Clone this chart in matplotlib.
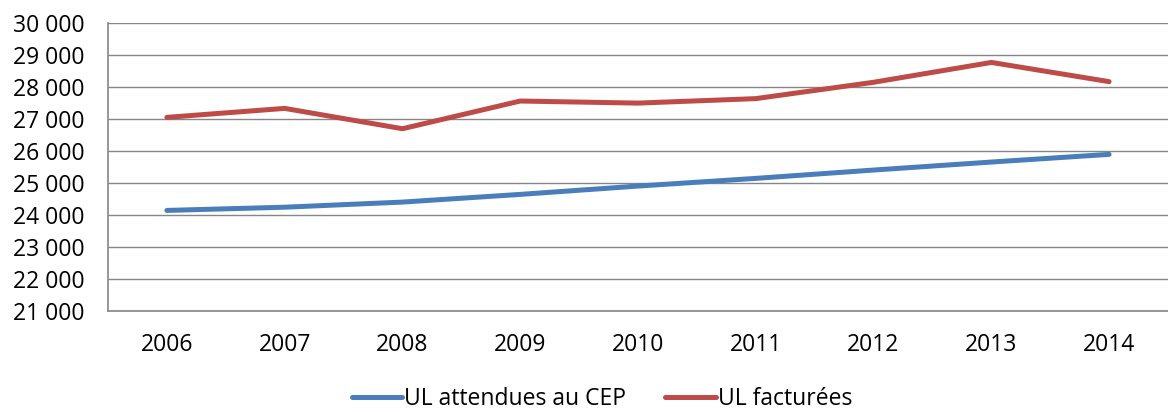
import matplotlib
matplotlib.use("Agg")
import matplotlib.pyplot as plt
from matplotlib.ticker import FuncFormatter

# data
years = ["2006", "2007", "2008", "2009", "2010", "2011", "2012", "2013", "2014"]
ul_attendues = [24140, 24240, 24400, 24640, 24900, 25140, 25400, 25650, 25890]
ul_facturees = [27045, 27325, 26690, 27555, 27490, 27630, 28140, 28760, 28160]

blue = "#4A7EBB"
red = "#BE4B48"
grey = "#868686"

plt.rcParams['font.family'] = ['Open Sans', 'DejaVu Sans']

fig = plt.figure(figsize=(11.68, 4.12), dpi=100)
ax = fig.add_axes([108 / 1168, 1 - 311 / 412, 1 - 108 / 1168, (311 - 22.7) / 412])

x = list(range(len(years)))
ax.plot(x, ul_attendues, color=blue, linewidth=3.6, solid_capstyle='round',
        label="UL attendues au CEP")
ax.plot(x, ul_facturees, color=red, linewidth=3.6, solid_capstyle='round',
        label="UL facturées")

ax.set_xlim(-0.5, len(years) - 0.5)
ax.set_ylim(21000, 30000)
ax.set_yticks(range(21000, 30001, 1000))
ax.yaxis.set_major_formatter(FuncFormatter(lambda v, p: f"{int(v):,}".replace(",", " ")))
ax.set_xticks(x)
ax.set_xticklabels(years)

ax.grid(axis='y', color=grey, linewidth=1.0)
ax.set_axisbelow(True)
ax.tick_params(axis='both', length=0, labelsize=16.5)
ax.tick_params(axis='y', pad=17)
ax.tick_params(axis='x', pad=16)

for s in ['top', 'right']:
    ax.spines[s].set_visible(False)
for s in ['left', 'bottom']:
    ax.spines[s].set_color(grey)
    ax.spines[s].set_linewidth(1.2)

ax.legend(loc='center', bbox_to_anchor=(0.5 - 36 / 1060, -88 / 288.3), ncol=2, frameon=False,
          fontsize=16.5, handlelength=2.2, handletextpad=0.1, columnspacing=1.7)

fig.savefig("out.png", dpi=100)
